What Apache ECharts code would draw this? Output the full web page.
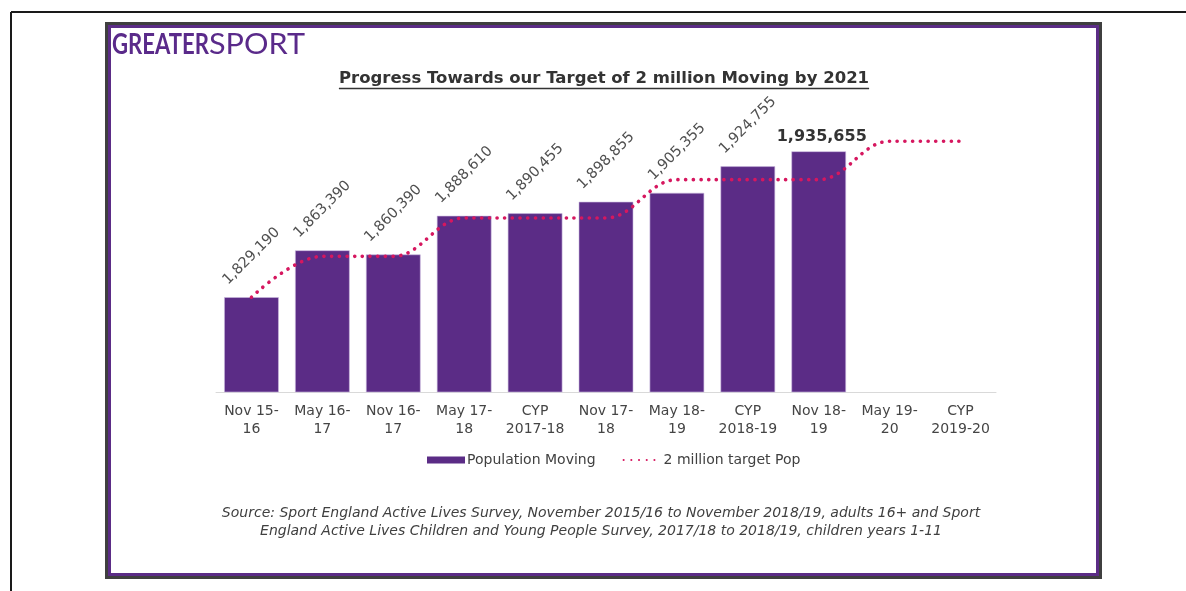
<!DOCTYPE html>
<html>
<head>
<meta charset="utf-8">
<script src="https://cdn.jsdelivr.net/npm/echarts@6/dist/echarts.min.js"></script>
<style>
  html, body { margin: 0; padding: 0; background: #ffffff; }
  #chart { width: 1186px; height: 591px; }
</style>
</head>
<body>
<div id="chart"></div>
<script>
// ---- Data ----
const categories = ['Nov 15-\n16', 'May 16-\n17', 'Nov 16-\n17', 'May 17-\n18', 'CYP\n2017-18', 'Nov 17-\n18', 'May 18-\n19', 'CYP\n2018-19', 'Nov 18-\n19', 'May 19-\n20', 'CYP\n2019-20'];
const populationMoving = [1829190, 1863390, 1860390, 1888610, 1890455, 1898855, 1905355, 1924755, 1935655, null, null];
const targetPop = [1829190, 1859000, 1859000, 1887000, 1887000, 1887000, 1915000, 1915000, 1915000, 1943000, 1943000];
const seriesNames = ['Population Moving', '2 million target Pop'];
const titleText = 'Progress Towards our Target of 2 million Moving by 2021';
const sourceText = 'Source: Sport England Active Lives Survey, November 2015/16 to November 2018/19, adults 16+ and Sport\nEngland Active Lives Children and Young People Survey, 2017/18 to 2018/19, children years 1-11';

const FONT = "'DejaVu Sans', Verdana, sans-serif";
const PURPLE = '#5b2c86';
const TARGET = '#d6175f';

function fmt(v) { return String(v).replace(/\B(?=(\d{3})+(?!\d))/g, ','); }

const lastIdx = populationMoving.reduce((a, v, i) => (v != null ? i : a), 0);
const barData = populationMoving.map((v, i) => {
  if (v == null) return '-';
  if (i === lastIdx) {
    return { value: v, label: { rotate: 0, align: 'center', verticalAlign: 'bottom', distance: 7, fontSize: 16, fontWeight: 'bold', color: '#333333', offset: [3, 0] } };
  }
  return v;
});

// text measurement helpers
const cv = document.createElement('canvas').getContext('2d');
function textW(font, t) { cv.font = font; return cv.measureText(t).width; }
const TITLE_FONT = "bold 16.5px 'DejaVu Sans'";
const titleW = textW(TITLE_FONT, titleText);
const titleCx = 604, titleY = 79;
const LOGO_B = "bold 28px Lato, 'Open Sans', sans-serif";
const LOGO_R = "28px Lato, 'Open Sans', sans-serif";
const sxG = 97 / textW(LOGO_B, 'GREATER');
const sxS = 96 / textW(LOGO_R, 'SPORT');

const chart = echarts.init(document.getElementById('chart'), null, { renderer: 'canvas' });
chart.setOption({
  backgroundColor: '#ffffff',
  animation: false,
  grid: { left: 216, right: 190, top: 118, bottom: 199, containLabel: false },
  xAxis: {
    type: 'category',
    data: categories,
    axisLine: { show: true, lineStyle: { color: '#d9d9d9', width: 1 } },
    axisTick: { show: false },
    axisLabel: { interval: 0, color: '#454545', fontSize: 14, lineHeight: 18, margin: 10, fontFamily: FONT }
  },
  yAxis: {
    type: 'value', min: 1760000, max: 1960000, show: false,
    splitLine: { show: false }
  },
  legend: {
    data: [
      { name: seriesNames[0], icon: 'rect', itemStyle: { borderWidth: 0 } },
      { name: seriesNames[1], itemStyle: { opacity: 0 } }
    ],
    left: 422, top: 448,
    itemWidth: 38, itemHeight: 7, itemGap: 27,
    textStyle: { fontSize: 14, color: '#404040', fontFamily: FONT, padding: [0, 0, 0, -3] }
  },
  series: [
    {
      name: seriesNames[0], type: 'bar', data: barData,
      barWidth: '77%',
      itemStyle: { color: PURPLE, borderColor: '#cbb9df', borderWidth: 0.6 },
      label: {
        show: true, position: 'top', rotate: 45, align: 'center', verticalAlign: 'middle', distance: 41,
        fontSize: 14.5, color: '#505050', fontFamily: FONT,
        formatter: p => fmt(p.value)
      },
      z: 2
    },
    {
      name: seriesNames[1], type: 'line', data: targetPop,
      smooth: 0.4, smoothMonotone: 'x',
      symbol: 'none',
      lineStyle: { color: TARGET, width: 3.6, type: [0.1, 7.6], cap: 'round' },
      itemStyle: { color: TARGET },
      z: 3
    }
  ],
  graphic: [
    // outer black frame lines
    { type: 'line', shape: { x1: 11, y1: 12, x2: 1186, y2: 12 }, style: { stroke: '#1a1a1a', lineWidth: 2 }, silent: true },
    { type: 'line', shape: { x1: 11, y1: 12, x2: 11, y2: 591 }, style: { stroke: '#1a1a1a', lineWidth: 2 }, silent: true },
    // inner framed panel
    { type: 'rect', shape: { x: 106.5, y: 23.5, width: 994, height: 554 }, style: { fill: 'none', stroke: '#3f3f3f', lineWidth: 3 }, silent: true },
    { type: 'rect', shape: { x: 109.5, y: 26.5, width: 988, height: 548 }, style: { fill: 'none', stroke: PURPLE, lineWidth: 3 }, silent: true },
    // logo
    { type: 'text', x: 112, y: 45, scaleX: sxG, style: { text: 'GREATER', font: LOGO_B, fill: '#5a2a8a', textAlign: 'left', textVerticalAlign: 'middle' }, silent: true },
    { type: 'text', x: 209, y: 45, scaleX: sxS, style: { text: 'SPORT', font: LOGO_R, fill: '#5a2a8a', textAlign: 'left', textVerticalAlign: 'middle' }, silent: true },
    // title + underline
    { type: 'text', x: titleCx, y: titleY, style: { text: titleText, font: TITLE_FONT, fill: '#333333', textAlign: 'center', textVerticalAlign: 'middle' }, silent: true },
    { type: 'line', shape: { x1: titleCx - titleW / 2, y1: titleY + 9.5, x2: titleCx + titleW / 2, y2: titleY + 9.5 }, style: { stroke: '#333333', lineWidth: 1.4 }, silent: true },
    // source
    { type: 'text', x: 601, y: 522, style: { text: sourceText, font: "italic 14px 'DejaVu Sans'", fill: '#404040', textAlign: 'center', textVerticalAlign: 'middle', lineHeight: 18 }, silent: true }
  ]
});
</script>
</body>
</html>
